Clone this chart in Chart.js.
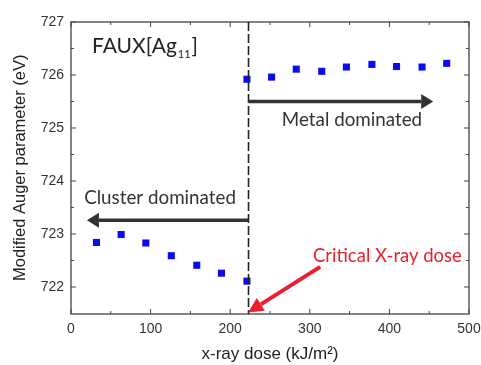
<!DOCTYPE html>
<html>
<head>
<meta charset="utf-8">
<script src="https://cdn.jsdelivr.net/npm/chart.js@4"></script>
<style>
html,body{margin:0;padding:0;background:#fff;}
#wrap{width:481px;height:365px;}
</style>
</head>
<body>
<div id="wrap"><canvas id="c" width="481" height="365"></canvas></div>
<script>
// ---- data ----
const doseValues = [32, 63, 94, 126, 158, 189, 221, 221, 252, 283, 315, 346, 378, 409, 441, 472];
const augerValues = [722.84, 722.99, 722.83, 722.59, 722.41, 722.26, 722.11, 725.92, 725.96, 726.11, 726.07, 726.15, 726.20, 726.16, 726.15, 726.22];
const xTicks = [0, 100, 200, 300, 400, 500];
const yTicks = [722, 723, 724, 725, 726, 727];
const xMinorTicks = [50, 150, 250, 350, 450];
const yMinorTicks = [722.5, 723.5, 724.5, 725.5, 726.5];
const criticalDose = 223;
const sampleName = ["FAUX[Ag", "11", "]"];
const metalLabel = "Metal dominated";
const clusterLabel = "Cluster dominated";
const criticalLabel = "Critical X-ray dose";
const xTitle = "x-ray dose (kJ/m\u00B2)";
const yTitle = "Modified Auger parameter (eV)";

const annot = {
  name: {x: 26.5, y: 726.55},
  metalArrow: {x0: 223, x1: 455, y: 725.5},
  metalText: {x: 353, y: 725.15},
  clusterArrow: {x0: 223, x1: 20, y: 723.26},
  clusterText: {x: 16.5, y: 723.68},
  redArrow: {x0: 313, y0: 722.38, x1: 222.5, y1: 721.52},
  criticalText: {x: 304, y: 722.58},
  yTitleCenter: 724.25
};

function arrow(ctx, x0, y0, x1, y1, color, shaft, headLen, headW) {
  const ang = Math.atan2(y1 - y0, x1 - x0);
  const bx = x1 - headLen * Math.cos(ang), by = y1 - headLen * Math.sin(ang);
  ctx.save();
  ctx.strokeStyle = color; ctx.fillStyle = color;
  ctx.lineWidth = shaft; ctx.lineCap = 'butt';
  ctx.beginPath(); ctx.moveTo(x0, y0); ctx.lineTo(bx, by); ctx.stroke();
  ctx.beginPath();
  ctx.moveTo(x1, y1);
  ctx.lineTo(bx + headW / 2 * Math.sin(ang), by - headW / 2 * Math.cos(ang));
  ctx.lineTo(bx - headW / 2 * Math.sin(ang), by + headW / 2 * Math.cos(ang));
  ctx.closePath(); ctx.fill();
  ctx.restore();
}

const framePlugin = {
  id: 'frame',
  afterDatasetsDraw(chart) {
    const ctx = chart.ctx, a = chart.chartArea;
    const xs = chart.scales.x, ys = chart.scales.y;
    ctx.save();
    // box
    ctx.strokeStyle = '#444'; ctx.lineWidth = 1.3;
    ctx.strokeRect(a.left, a.top, a.right - a.left, a.bottom - a.top);
    // ticks inward
    ctx.lineWidth = 1;
    const tick = (x1, y1, x2, y2) => { ctx.beginPath(); ctx.moveTo(x1, y1); ctx.lineTo(x2, y2); ctx.stroke(); };
    xTicks.forEach(v => { const p = xs.getPixelForValue(v); tick(p, a.bottom, p, a.bottom - 5); tick(p, a.top, p, a.top + 5); });
    xMinorTicks.forEach(v => { const p = xs.getPixelForValue(v); tick(p, a.bottom, p, a.bottom - 3); tick(p, a.top, p, a.top + 3); });
    yTicks.forEach(v => { const p = ys.getPixelForValue(v); tick(a.left, p, a.left + 5, p); tick(a.right, p, a.right - 5, p); });
    yMinorTicks.forEach(v => { const p = ys.getPixelForValue(v); tick(a.left, p, a.left + 3, p); tick(a.right, p, a.right - 3, p); });

    // dashed critical line
    const cx = xs.getPixelForValue(criticalDose);
    ctx.strokeStyle = '#222'; ctx.lineWidth = 1.6; ctx.setLineDash([9, 3]);
    tick(cx, a.top, cx, a.bottom);
    ctx.setLineDash([]);

    // arrows
    const ma = annot.metalArrow, ca = annot.clusterArrow, ra = annot.redArrow;
    arrow(ctx, xs.getPixelForValue(ma.x0), ys.getPixelForValue(ma.y), xs.getPixelForValue(ma.x1), ys.getPixelForValue(ma.y), '#333', 3.5, 12, 15);
    arrow(ctx, xs.getPixelForValue(ca.x0), ys.getPixelForValue(ca.y), xs.getPixelForValue(ca.x1), ys.getPixelForValue(ca.y), '#333', 3.5, 12, 15);
    arrow(ctx, xs.getPixelForValue(ra.x0), ys.getPixelForValue(ra.y0), xs.getPixelForValue(ra.x1), ys.getPixelForValue(ra.y1), '#e8202f', 4, 15, 15);

    // texts
    ctx.textBaseline = 'middle';
    ctx.fillStyle = '#333';
    ctx.font = '18.8px Lato, "Open Sans", sans-serif';
    ctx.textAlign = 'center';
    ctx.fillText(metalLabel, xs.getPixelForValue(annot.metalText.x), ys.getPixelForValue(annot.metalText.y));
    ctx.textAlign = 'left';
    ctx.fillText(clusterLabel, xs.getPixelForValue(annot.clusterText.x), ys.getPixelForValue(annot.clusterText.y));
    ctx.fillStyle = '#e8202f';
    ctx.font = '18.5px Lato, "Open Sans", sans-serif';
    ctx.fillText(criticalLabel, xs.getPixelForValue(annot.criticalText.x), ys.getPixelForValue(annot.criticalText.y));

    // sample name with subscript
    ctx.fillStyle = '#222';
    let nx = xs.getPixelForValue(annot.name.x), ny = ys.getPixelForValue(annot.name.y);
    ctx.font = '21px Lato, "Open Sans", sans-serif';
    ctx.fillText(sampleName[0], nx, ny);
    nx += ctx.measureText(sampleName[0]).width + 1;
    ctx.font = '11px Lato, "Open Sans", sans-serif';
    ctx.fillText(sampleName[1], nx, ny + 9);
    nx += ctx.measureText(sampleName[1]).width + 1;
    ctx.font = '21px Lato, "Open Sans", sans-serif';
    ctx.fillText(sampleName[2], nx, ny);

    // y axis title
    ctx.save();
    ctx.translate(20, ys.getPixelForValue(annot.yTitleCenter));
    ctx.rotate(-Math.PI / 2);
    ctx.textAlign = 'center'; ctx.textBaseline = 'middle';
    ctx.fillStyle = '#222';
    ctx.font = '16.5px "Liberation Sans", Arial, sans-serif';
    ctx.fillText(yTitle, 0, 0);
    ctx.restore();
    ctx.restore();
  }
};

new Chart(document.getElementById('c'), {
  type: 'scatter',
  data: {
    datasets: [{
      data: doseValues.map((x, i) => ({x: x, y: augerValues[i]})),
      pointStyle: 'rect',
      pointRadius: 5,
      pointHoverRadius: 5,
      backgroundColor: '#0a0af5',
      borderWidth: 0
    }]
  },
  options: {
    responsive: false,
    animation: false,
    events: [],
    layout: {padding: {top: 22, right: 12, left: 0, bottom: 0}},
    plugins: {legend: {display: false}, tooltip: {enabled: false}},
    scales: {
      x: {
        type: 'linear', min: 0, max: 500,
        afterBuildTicks: s => { s.ticks = xTicks.map(v => ({value: v})); },
        afterFit: s => { s.height = 51; s.paddingRight = 0; s.paddingLeft = 0; },
        grid: {display: false, drawTicks: false},
        border: {display: false},
        ticks: {padding: 7, color: '#333', font: {family: '"Liberation Sans", Arial, sans-serif', size: 14}},
        title: {display: true, text: xTitle, color: '#222', padding: {top: 0, bottom: 0}, font: {family: '"Liberation Sans", Arial, sans-serif', size: 17}}
      },
      y: {
        type: 'linear', min: 721.49, max: 727,
        afterBuildTicks: s => { s.ticks = yTicks.map(v => ({value: v})); },
        afterFit: s => { s.width = 71; s.paddingTop = 0; s.paddingBottom = 0; },
        grid: {display: false, drawTicks: false},
        border: {display: false},
        ticks: {padding: 7, color: '#333', font: {family: '"Liberation Sans", Arial, sans-serif', size: 14}},
        title: {display: false}
      }
    }
  },
  plugins: [framePlugin]
});
</script>
</body>
</html>
